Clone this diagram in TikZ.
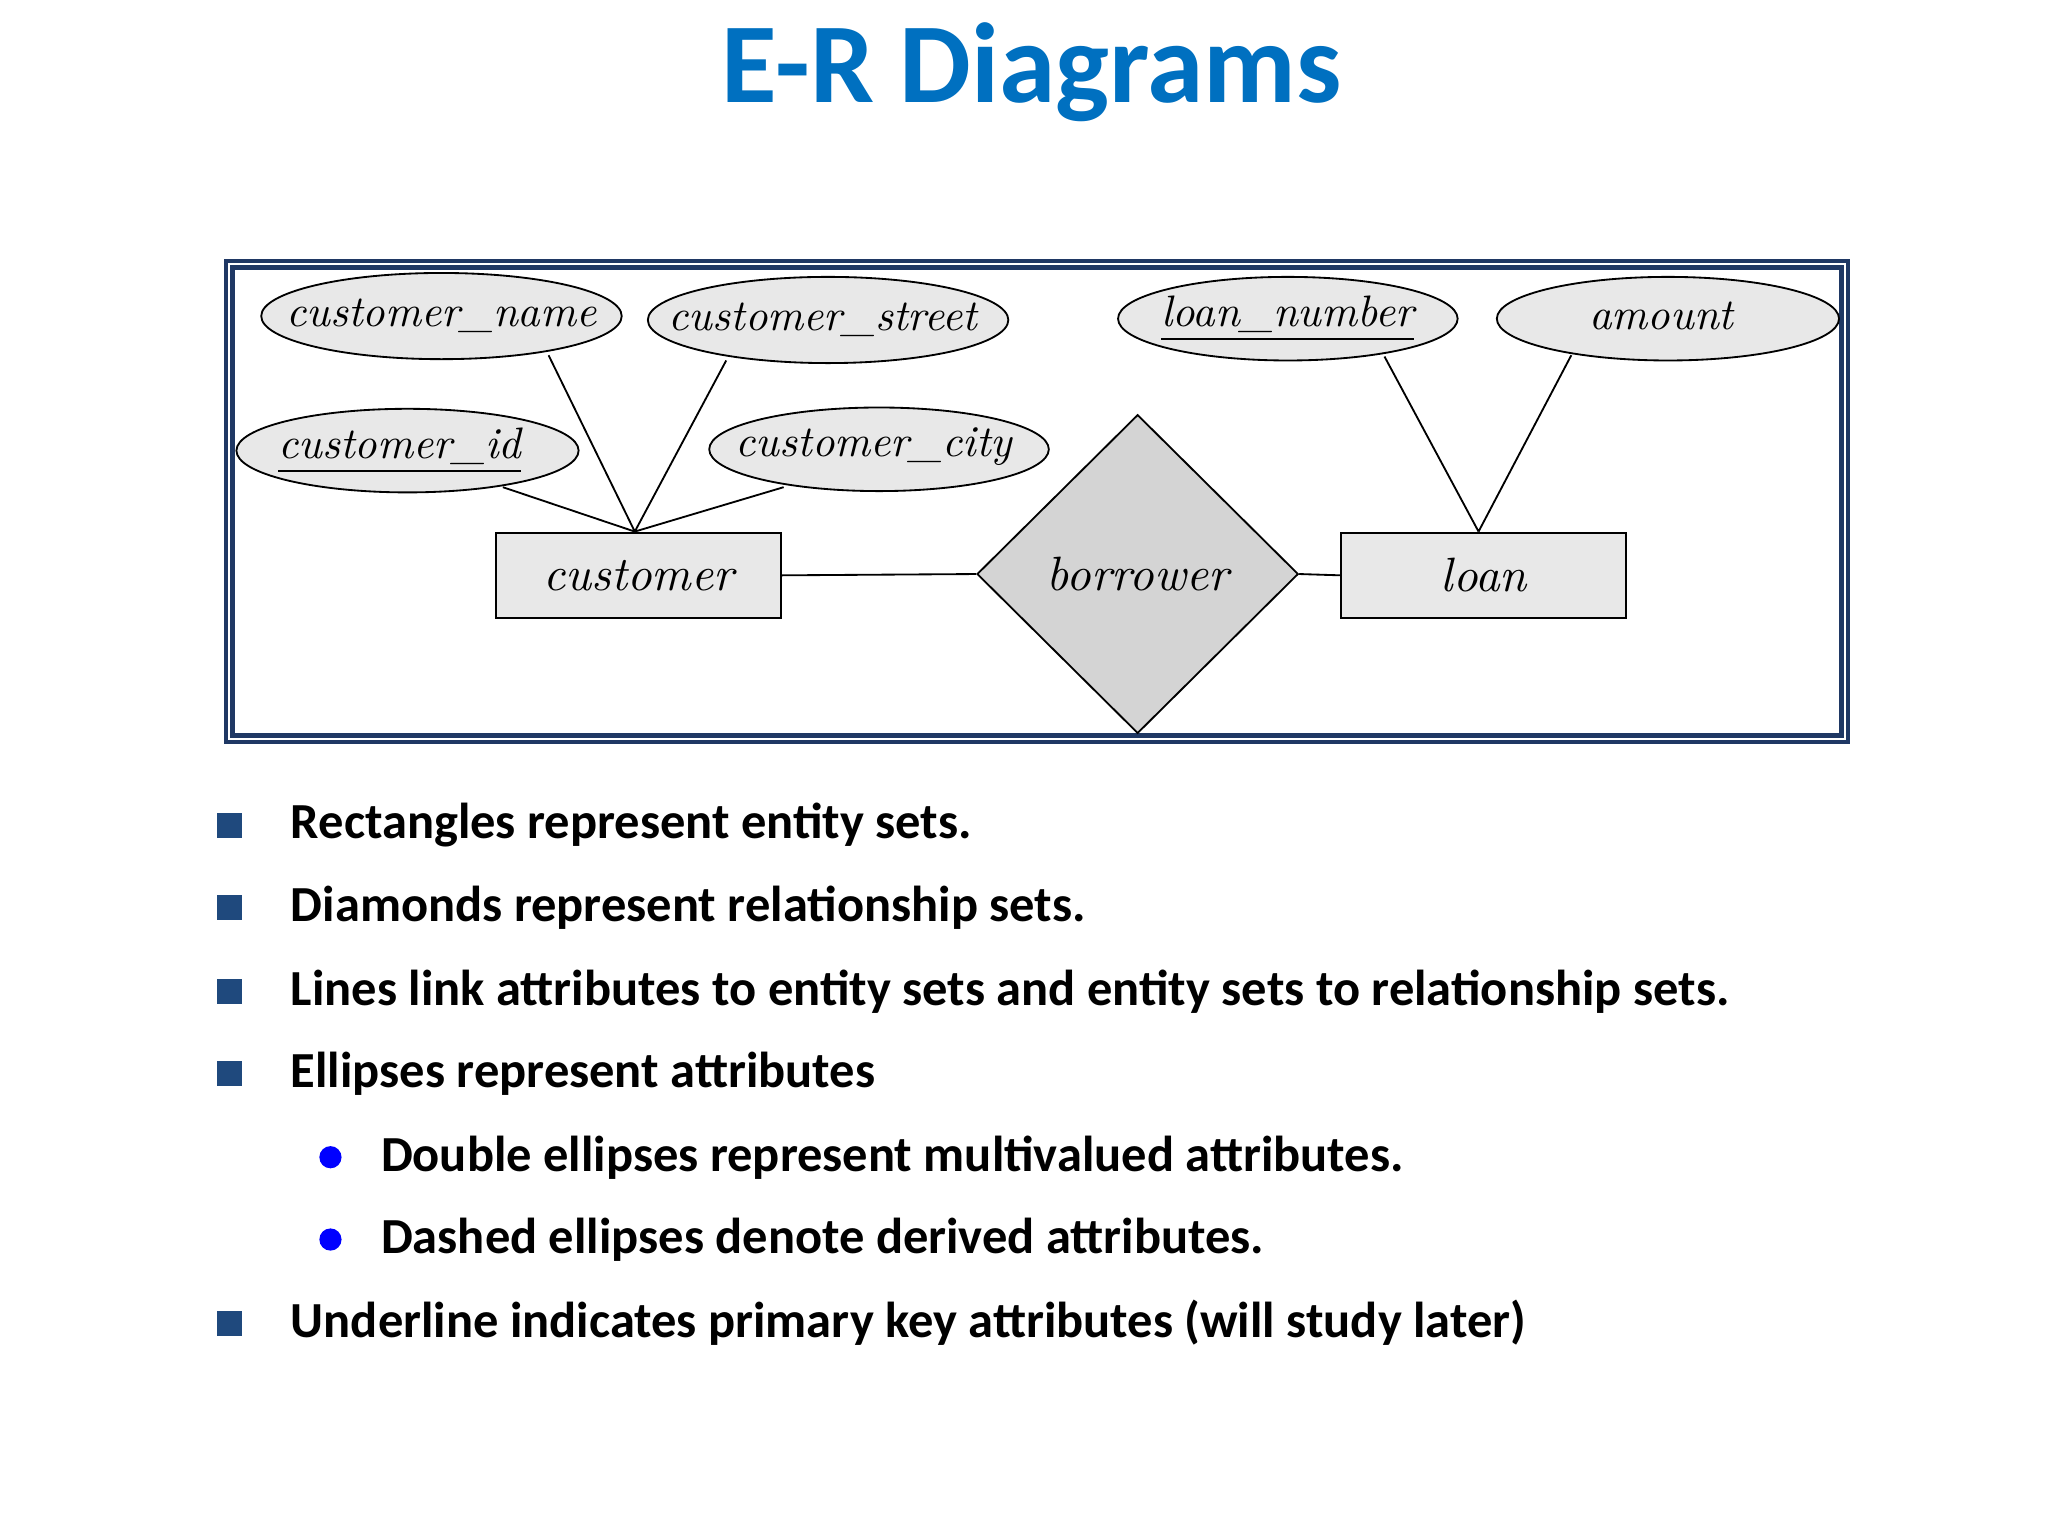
\documentclass[tikz,border=0pt]{standalone}
\usepackage{fontspec}
\setsansfont{Carlito}
\usetikzlibrary{shapes.geometric}
\definecolor{ttl}{RGB}{0,112,192}
\definecolor{frm}{RGB}{31,56,100}
\definecolor{sq}{RGB}{31,73,125}
\definecolor{ellf}{RGB}{232,232,232}
\definecolor{dmf}{RGB}{212,212,212}
\tikzset{
 attr/.style={inner sep=0pt,font=\fontsize{9.6}{11}\selectfont\itshape},
 ellshape/.style={draw,thin,fill=ellf},
 ent/.style={draw,thin,fill=ellf,minimum width=2.18cm,minimum height=0.65cm,inner sep=0pt,font=\fontsize{10.5}{12}\selectfont\itshape},
 rel/.style={diamond,draw,thin,fill=dmf,minimum width=2.46cm,minimum height=2.44cm,inner sep=0pt,font=\fontsize{10.5}{12}\selectfont\itshape},
 btxt/.style={anchor=west,font=\sffamily\bfseries\fontsize{11}{13}\selectfont,inner sep=0pt},
 sqb/.style={fill=sq,minimum size=0.19cm,inner sep=0pt},
 dot/.style={circle,fill=blue,minimum size=0.17cm,inner sep=0pt},
}
\begin{document}
\begin{tikzpicture}
\useasboundingbox[fill=white] (0,0) rectangle (15.68,-11.76);
\node[font=\sffamily\bfseries\fontsize{24.8}{28}\selectfont,text=ttl] (title) at (7.9,-0.55) {E-R Diagrams};
\draw[frm,line width=0.8pt] (1.73,-2.00) rectangle (14.15,-5.68);
\draw[frm,line width=1.2pt] (1.78,-2.05) rectangle (14.10,-5.63);
\draw[ellshape] (3.38,-2.42) ellipse (1.38 and 0.33);
\draw[ellshape] (6.34,-2.45) ellipse (1.38 and 0.33);
\draw[ellshape] (9.86,-2.44) ellipse (1.30 and 0.32);
\draw[ellshape] (12.77,-2.44) ellipse (1.31 and 0.32);
\draw[ellshape] (3.12,-3.45) ellipse (1.31 and 0.32);
\draw[ellshape] (6.73,-3.44) ellipse (1.30 and 0.32);
\node[attr] (cn) at (3.38,-2.42) {customer\_name};
\node[attr] (cs) at (6.30,-2.45) {customer\_street};
\node[attr] (ln) at (9.86,-2.44) {\underline{loan\_number}};
\node[attr] (am) at (12.72,-2.42) {amount};
\node[attr] (ci) at (3.06,-3.45) {\underline{customer\_id}};
\node[attr] (cc) at (6.69,-3.42) {customer\_city};
\node[ent] (cu) at (4.89,-4.405) {customer};
\node[ent] (lo) at (11.36,-4.405) {loan};
\node[rel] (bo) at (8.71,-4.395) {borrower};
\coordinate (cut) at (4.86,-4.07);
\coordinate (lot) at (11.32,-4.07);
\draw[thin] (cut) -- (4.20,-2.72) (cut) -- (5.56,-2.76) (cut) -- (3.85,-3.73) (cut) -- (6.00,-3.73);
\draw[thin] (lot) -- (10.60,-2.73) (lot) -- (12.03,-2.72);
\draw[thin] (cu.east) -- (bo.west) (bo.east) -- (lo.west);
\foreach \y/\t [count=\i] in {6.32/Rectangles represent entity sets., 6.95/Diamonds represent relationship sets., 7.59/Lines link attributes to entity sets and entity sets to relationship sets., 8.22/Ellipses represent attributes, 10.13/Underline indicates primary key attributes (will study later)}{
 \node[sqb] (s\i) at (1.76,-\y) {};
 \node[btxt] (t\i) at (2.22,-\y) {\t};
}
\node[dot] (d1) at (2.53,-8.86) {};
\node[btxt] (u1) at (2.91,-8.86) {Double ellipses represent multivalued attributes.};
\node[dot] (d2) at (2.53,-9.49) {};
\node[btxt] (u2) at (2.91,-9.49) {Dashed ellipses denote derived attributes.};
\end{tikzpicture}
\end{document}
